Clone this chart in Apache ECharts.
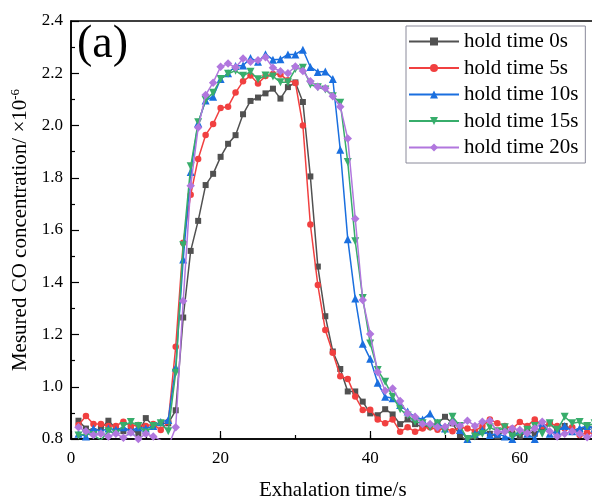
<!DOCTYPE html>
<html><head><meta charset="utf-8">
<script src="https://cdn.jsdelivr.net/npm/echarts@6/dist/echarts.min.js"></script>
<style>html,body{margin:0;padding:0;background:#fff}#c{width:592px;height:501px}</style>
</head><body><div id="c"></div>
<script>
// Exhalation time (s)
const time = [1,2,3,4,5,6,7,8,9,10,11,12,13,14,15,16,17,18,19,20,21,22,23,24,25,26,27,28,29,30,31,32,33,34,35,36,37,38,39,40,41,42,43,44,45,46,47,48,49,50,51,52,53,54,55,56,57,58,59,60,61,62,63,64,65,66,67,68,69,70];
const seriesNames = ['hold time 0s','hold time 5s','hold time 10s','hold time 15s','hold time 20s'];
const hold0 = [0.87,0.84,0.83,0.84,0.87,0.84,0.83,0.84,0.82,0.88,0.85,0.86,0.86,
  0.91,1.265,1.52,1.635,1.772,1.815,1.88,1.93,1.963,2.043,2.094,2.107,2.123,2.141,2.103,2.147,2.165,
  2.09,1.805,1.46,1.27,1.135,1.068,0.982,0.982,0.943,0.898,0.891,0.914,0.894,0.857,0.875,0.857,
  0.845,0.85,0.86,0.885,0.86,0.815,0.79,0.81,0.83,0.82,0.81,0.835,0.82,0.81,0.83,0.82,0.84,0.86,0.83,0.85,0.84,0.83,0.85,0.84];
const hold5 = [0.854,0.888,0.857,0.857,0.85,0.85,0.866,0.85,0.854,0.85,0.857,0.834,0.866,
  1.153,1.551,1.735,1.872,1.964,2.006,2.067,2.072,2.126,2.169,2.191,2.161,2.189,2.197,2.195,2.173,2.163,
  2.0,1.621,1.389,1.217,1.13,1.04,1.03,0.963,0.911,0.912,0.875,0.86,0.875,0.828,0.845,0.828,
  0.84,0.845,0.835,0.84,0.83,0.845,0.84,0.83,0.85,0.875,0.86,0.85,0.84,0.865,0.85,0.875,0.85,0.86,0.85,0.84,0.845,0.815,0.825,0.82];
const hold10 = [0.82,0.81,0.84,0.83,0.84,0.835,0.845,0.83,0.845,0.84,0.85,0.865,0.873,
  1.074,1.487,1.822,2.01,2.096,2.11,2.178,2.2,2.228,2.23,2.258,2.244,2.273,2.252,2.254,2.272,2.272,2.29,2.224,2.205,2.207,2.178,1.907,
  1.565,1.338,1.165,1.107,1.015,0.962,0.956,0.93,0.905,0.885,0.875,0.898,0.862,0.84,0.873,0.834,0.8,0.82,0.834,0.815,0.82,0.81,0.8,0.834,0.82,0.8,0.862,0.82,0.83,0.85,0.83,0.841,0.85,0.84];
const hold15 = [0.813,0.82,0.815,0.796,0.83,0.82,0.85,0.865,0.85,0.825,0.85,0.86,0.83,
  1.054,1.542,1.844,2.012,2.098,2.125,2.178,2.198,2.21,2.19,2.206,2.177,2.191,2.188,2.166,2.166,2.216,2.221,2.157,2.146,2.138,2.112,2.087,
  1.86,1.557,1.34,1.166,1.064,1.019,
  0.962,0.914,0.89,0.866,0.86,0.845,0.86,0.83,0.885,0.85,0.8,0.81,0.82,0.845,0.83,0.845,0.81,0.82,0.835,0.85,0.82,0.86,0.835,0.885,0.86,0.865,0.85,0.86];
const hold20 = [0.845,0.83,0.815,0.82,0.81,0.82,0.805,0.825,0.8,0.82,0.81,0.795,0.77,
  0.845,1.328,1.769,1.992,2.117,2.164,2.225,2.237,2.222,2.256,2.244,2.25,2.261,2.221,2.208,2.2,2.226,2.209,2.169,2.148,2.143,2.112,2.072,
  1.95,1.643,1.332,1.202,1.056,0.985,0.993,0.945,0.898,
  0.885,0.857,0.857,0.845,0.847,0.862,0.85,0.87,0.85,0.866,0.87,0.828,0.828,0.84,0.834,0.822,0.84,0.866,0.83,0.81,0.82,0.83,0.82,0.807,0.815];
const yTicks = [0.8,1.0,1.2,1.4,1.6,1.8,2.0,2.2,2.4];

const allVals = [hold0, hold5, hold10, hold15, hold20];
const colors = ['#515151','#F14040','#1A6FDF','#37AD6B','#B177DE'];
const symbols = ['rect','circle','triangle','triangle','diamond'];
const rots = [0,0,0,180,0];
const sizes = [6,6.5,8,8,8.5];
const font = 'Liberation Serif';

const chart = echarts.init(document.getElementById('c'), null, {renderer:'canvas'});
const option = {
  animation: false,
  backgroundColor: '#fff',
  grid: {left:71, top:21, right:-2.6, bottom:62, show:true, borderColor:'#000', borderWidth:1.5,
    backgroundColor:'transparent', containLabel:false, outerBoundsMode:'none'},
  legend: {
    orient:'vertical', left:406, top:26, itemWidth:50, itemHeight:10, itemGap:5.5,
    padding:[5,7,5,2], borderColor:'#8a8a9a', borderWidth:1, backgroundColor:'#fff',
    textStyle:{fontFamily:font, fontSize:21, color:'#000', lineHeight:21},
    data: seriesNames
  },
  xAxis: [{
    type:'value', min:0, max:70, interval:20, position:'bottom',
    name:'Exhalation time/s', nameLocation:'middle', nameGap:41,
    nameTextStyle:{fontFamily:font, fontSize:21, color:'#000'},
    axisLine:{show:true, onZero:false, lineStyle:{color:'#000', width:1.5}},
    axisTick:{show:true, inside:true, length:8, lineStyle:{color:'#000', width:1.2}},
    axisLabel:{fontFamily:font, fontSize:17, color:'#000', margin:11,
      formatter: v => (v % 20 === 0 ? String(v) : '')},
    splitLine:{show:false}
  },{
    type:'value', min:0, max:70, interval:10, position:'bottom', gridIndex:0,
    axisLine:{show:false, onZero:false},
    axisTick:{show:true, inside:true, length:4, lineStyle:{color:'#000', width:1.2}},
    axisLabel:{show:false}, splitLine:{show:false}
  }],
  yAxis: {
    type:'value', min:yTicks[0], max:yTicks[yTicks.length-1], interval:0.2,
    name:'Mesured CO concentration/ ×10{sup|-6}', nameLocation:'middle', nameGap:34,
    nameTextStyle:{fontFamily:font, fontSize:21, color:'#000',
      rich:{sup:{fontFamily:font, fontSize:13, color:'#000', verticalAlign:'bottom', padding:[0,0,9,0]}}},
    axisLine:{show:true, lineStyle:{color:'#000', width:1.5}},
    axisTick:{show:true, inside:true, length:8, lineStyle:{color:'#000', width:1.2}},
    minorTick:{show:true, splitNumber:2, length:4, lineStyle:{color:'#000', width:1.2}},
    axisLabel:{fontFamily:font, fontSize:17, color:'#000', margin:8, formatter: v => v.toFixed(1)},
    splitLine:{show:false}
  },
  graphic: [{type:'text', left:77, top:22, z:100,
    style:{text:'(a)', font:'46px "Liberation Serif"', fill:'#000'}}],
  series: allVals.map((vals, i) => ({
    type:'line', name: seriesNames[i], xAxisIndex:0,
    data: time.map((t, j) => [t, vals[j]]),
    symbol: symbols[i], symbolSize: sizes[i], symbolRotate: rots[i],
    showAllSymbol:true, clip:true, z: 2 + i,
    lineStyle:{color: colors[i], width:1.5},
    itemStyle:{color: colors[i]}
  }))
};
chart.setOption(option);
</script></body></html>
